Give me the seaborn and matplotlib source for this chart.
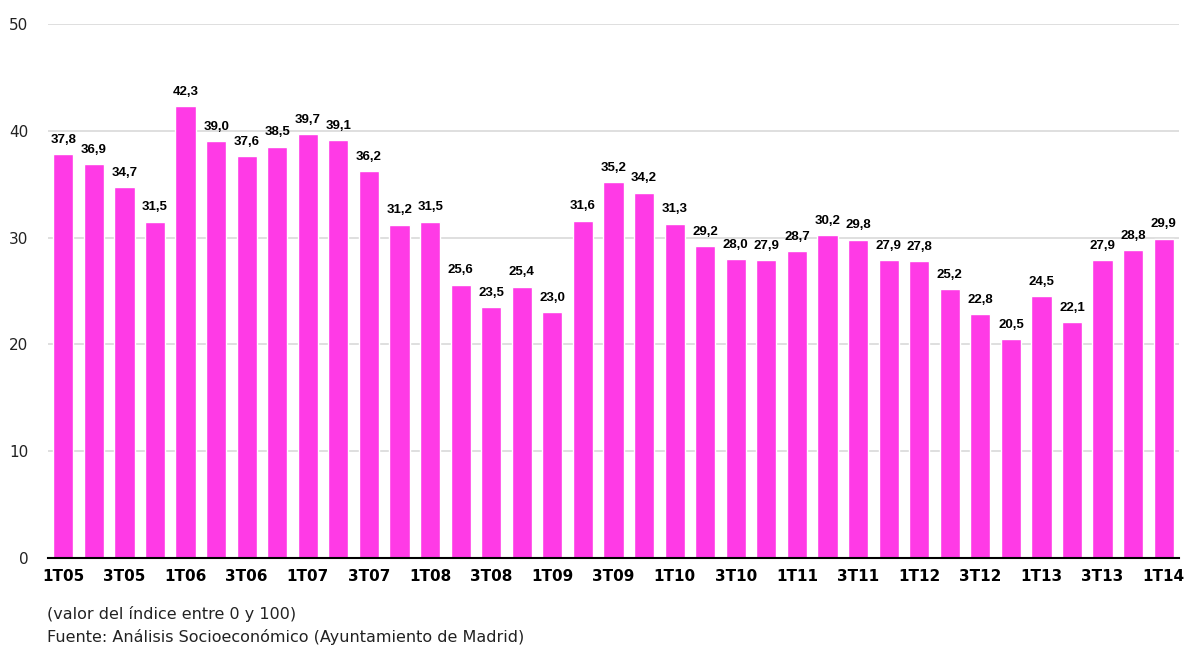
import numpy as np
import matplotlib
matplotlib.use("Agg")
import matplotlib.pyplot as plt
import seaborn as sns
import pandas as pd

# trimestres 1T05 .. 1T14
quarters = [f"{q}T{y:02d}" for y in range(5, 15) for q in range(1, 5)][:37]
values = [37.8, 36.9, 34.7, 31.5, 42.3, 39.0, 37.6, 38.5, 39.7, 39.1, 36.2, 31.2,
          31.5, 25.6, 23.5, 25.4, 23.0, 31.6, 35.2, 34.2, 31.3, 29.2, 28.0, 27.9,
          28.7, 30.2, 29.8, 27.9, 27.8, 25.2, 22.8, 20.5, 24.5, 22.1, 27.9, 28.8, 29.9]
y_ticks = [0, 10, 20, 30, 40, 50]
note = "(valor del índice entre 0 y 100)"
source = "Fuente: Análisis Socioeconómico (Ayuntamiento de Madrid)"

bar_color = "#ff3ae6"

sns.set_theme(style="white")
plt.rcParams["font.family"] = ["DejaVu Sans"]

df = pd.DataFrame({"trimestre": quarters, "valor": values})

fig = plt.figure(figsize=(11.87, 6.46), dpi=100)
ax = fig.add_axes([48 / 1187, 1 - 558 / 646, 1131 / 1187, 534 / 646])

sns.barplot(data=df, x="trimestre", y="valor", color=bar_color, width=0.66,
            saturation=1, ax=ax, zorder=3)

ax.bar_label(ax.containers[0], labels=[f"{v:.1f}".replace(".", ",") for v in values],
             padding=6, fontsize=9.5, fontweight="bold", family="Liberation Sans", color="black")

ax.set_ylim(0, 50)
ax.set_xlim(-0.5, len(values) - 0.5)
ax.set_yticks(y_ticks)
ax.set_yticklabels([str(t) for t in y_ticks], fontsize=11, color="#222222")
ax.set_xticks(range(0, len(quarters), 2))
ax.set_xticklabels(quarters[::2], fontsize=11, fontweight="bold", color="black")
ax.tick_params(axis="y", length=0, pad=14)
ax.tick_params(axis="x", length=0, pad=8)
ax.set_xlabel("")
ax.set_ylabel("")

ax.yaxis.grid(True, color="#d9d9d9", linewidth=1.2, zorder=0)
ax.set_axisbelow(True)
for side in ["left", "right", "top"]:
    ax.spines[side].set_visible(False)
ax.spines["bottom"].set_color("black")
ax.spines["bottom"].set_linewidth(1.5)
ax.spines["bottom"].set_zorder(4)

fig.text(47 / 1187, 1 - 614 / 646, note, fontsize=11.5, color="#222222", va="center")
fig.text(47 / 1187, 1 - 637 / 646, source, fontsize=11.5, color="#222222", va="center")

fig.savefig("out.png", dpi=100)
plt.close(fig)
